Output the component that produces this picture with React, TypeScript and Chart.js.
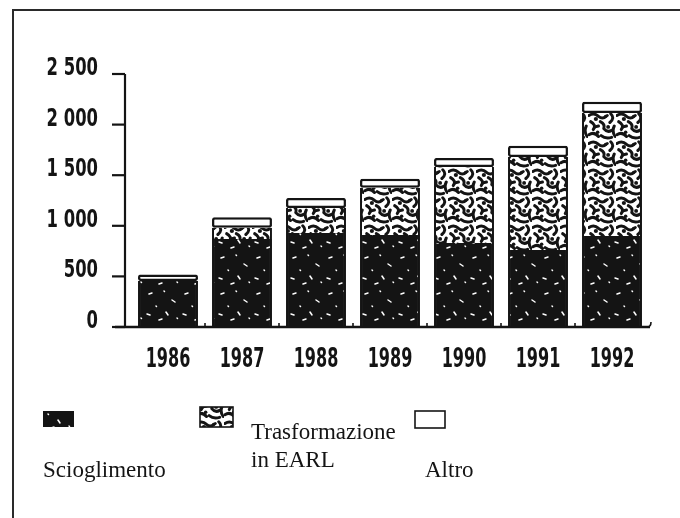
import React, { useEffect, useRef } from "react";
import { Chart, registerables } from "chart.js";

Chart.register(...registerables);

const years = ["1986", "1987", "1988", "1989", "1990", "1991", "1992"];
const scioglimento = [455, 870, 930, 910, 830, 760, 900];
const trasformazioneEARL = [0, 110, 245, 465, 750, 920, 1215];
const altro = [65, 105, 100, 90, 90, 110, 110];
const seriesNames = ["Scioglimento", "Trasformazione in EARL", "Altro"];
const yTicks = [0, 500, 1000, 1500, 2000, 2500];

const INK = "#141414";
const COND = '"DejaVu Sans Condensed", "DejaVu Sans", sans-serif';
const SERIF = '"Liberation Serif", "DejaVu Serif", serif';

function makeDarkPattern(): CanvasPattern | string {
  const c = document.createElement("canvas");
  c.width = 36;
  c.height = 36;
  const g = c.getContext("2d");
  if (!g) return INK;
  g.fillStyle = INK;
  g.fillRect(0, 0, 36, 36);
  g.strokeStyle = "#ffffff";
  g.lineWidth = 1.5;
  g.lineCap = "round";
  const marks = [
    [5, 6, 8, 5], [20, 3, 20.5, 3.5], [28, 12, 31, 14], [12, 18, 12.5, 18.5],
    [3, 26, 6, 27], [22, 24, 24, 27], [33, 30, 33.5, 30.5], [15, 32, 18, 31],
  ];
  for (const [a, b, cc, d] of marks) {
    g.beginPath();
    g.moveTo(a, b);
    g.lineTo(cc, d);
    g.stroke();
  }
  const p = g.createPattern(c, "repeat");
  return p || INK;
}

function makeMottledPattern(): CanvasPattern | string {
  const c = document.createElement("canvas");
  c.width = 28;
  c.height = 28;
  const g = c.getContext("2d");
  if (!g) return "#777";
  g.fillStyle = "#ffffff";
  g.fillRect(0, 0, 28, 28);
  g.save();
  g.scale(28 / 32, 28 / 32);
  g.strokeStyle = INK;
  g.fillStyle = INK;
  g.lineWidth = 3.4;
  g.lineCap = "round";
  g.lineJoin = "round";
  const paths: number[][] = [
    [1, 4, 7, 0, 12, 5, 17, 9, 22, 4],
    [26, 2, 31, 7, 25, 12, 25, 12, 25, 12],
    [3, 11, 10, 15, 6, 20, 6, 20, 6, 20],
    [14, 11, 20, 14, 18, 19, 22, 24, 27, 21],
    [30, 16, 27, 22, 31, 28, 31, 28, 31, 28],
    [1, 26, 7, 22, 12, 28, 12, 28, 12, 28],
    [15, 27, 20, 31, 27, 29, 27, 29, 27, 29],
    [8, 17, 12, 16, 12, 16, 12, 16, 12, 16],
  ];
  for (const p of paths) {
    g.beginPath();
    g.moveTo(p[0], p[1]);
    g.quadraticCurveTo(p[2], p[3], p[4], p[5]);
    g.quadraticCurveTo(p[6], p[7], p[8], p[9]);
    g.stroke();
  }
  const blobs = [[9, 8, 2.4], [23, 17, 2.2], [20, 5, 1.8], [11, 23, 2]];
  for (const [bx, by, br] of blobs) {
    g.beginPath();
    g.arc(bx, by, br, 0, Math.PI * 2);
    g.fill();
  }
  g.restore();
  const pat = g.createPattern(c, "repeat");
  return pat || "#777";
}

function fmt(v: number): string {
  if (v >= 1000) {
    return `${Math.floor(v / 1000)} ${String(v % 1000).padStart(3, "0")}`;
  }
  return String(v);
}

function drawNarrow(ctx: CanvasRenderingContext2D, text: string, x: number, y: number, size: number, sx: number, align: "right" | "center") {
  ctx.save();
  ctx.font = `bold ${size}px ${COND}`;
  ctx.textBaseline = "alphabetic";
  ctx.textAlign = align;
  ctx.translate(x, y);
  ctx.scale(sx, 1);
  ctx.fillText(text, 0, 0);
  ctx.restore();
}

export default function App() {
  const ref = useRef<HTMLCanvasElement | null>(null);

  useEffect(() => {
    const canvas = ref.current;
    if (!canvas) return;
    const dark = makeDarkPattern();
    const mottled = makeMottledPattern();

    const decor = {
      id: "decor",
      beforeDraw(chart: any) {
        const ctx = chart.ctx;
        ctx.save();
        ctx.fillStyle = "#ffffff";
        ctx.fillRect(0, 0, chart.width, chart.height);
        ctx.strokeStyle = "#2a2a2a";
        ctx.lineWidth = 2;
        ctx.beginPath();
        ctx.moveTo(13, chart.height);
        ctx.lineTo(13, 10);
        ctx.lineTo(chart.width, 10);
        ctx.stroke();
        ctx.restore();
      },
      afterDraw(chart: any) {
        const ctx = chart.ctx;
        const area = chart.chartArea;
        const ys = chart.scales.y;
        const xs = chart.scales.x;
        ctx.save();
        ctx.strokeStyle = INK;
        ctx.fillStyle = INK;
        ctx.lineCap = "butt";
        // y axis
        const axisX = area.left - 6;
        ctx.lineWidth = 2.2;
        ctx.beginPath();
        ctx.moveTo(axisX, ys.getPixelForValue(2500));
        ctx.lineTo(axisX, area.bottom);
        ctx.stroke();
        for (const t of yTicks) {
          const py = ys.getPixelForValue(t);
          ctx.beginPath();
          ctx.moveTo(axisX - 13, py);
          ctx.lineTo(axisX, py);
          ctx.stroke();
          drawNarrow(ctx, fmt(t), 98, py + 1, 24, 0.76, "right");
        }
        // x axis
        ctx.lineWidth = 2.6;
        ctx.beginPath();
        ctx.moveTo(area.left - 16, area.bottom);
        ctx.lineTo(area.right + 1, area.bottom);
        ctx.stroke();
        ctx.lineWidth = 1.6;
        const n = years.length;
        const step = (area.right - area.left) / n;
        for (let i = 1; i < n; i++) {
          const px = xs.getPixelForValue(i) - step / 2;
          ctx.beginPath();
          ctx.moveTo(px, area.bottom);
          ctx.lineTo(px, area.bottom - 4);
          ctx.stroke();
        }
        ctx.beginPath();
        ctx.moveTo(area.right - 2, area.bottom);
        ctx.quadraticCurveTo(area.right + 2, area.bottom, area.right + 2, area.bottom - 5);
        ctx.stroke();
        years.forEach((yr, i) => {
          drawNarrow(ctx, yr, xs.getPixelForValue(i), area.bottom + 40, 27, 0.66, "center");
        });

        // legend
        const fills = [dark, mottled, "#ffffff"];
        const boxes = [
          { x: 43, y: 411, w: 31, h: 16 },
          { x: 200, y: 407, w: 33, h: 20 },
          { x: 415, y: 411, w: 30, h: 17 },
        ];
        boxes.forEach((b, i) => {
          ctx.fillStyle = fills[i];
          ctx.fillRect(b.x, b.y, b.w, b.h);
          if (i > 0) {
            ctx.lineWidth = 1.6;
            ctx.strokeStyle = INK;
            ctx.strokeRect(b.x, b.y, b.w, b.h);
          }
        });
        ctx.fillStyle = INK;
        ctx.font = `23px ${SERIF}`;
        ctx.textBaseline = "alphabetic";
        ctx.textAlign = "left";
        ctx.fillText(seriesNames[0], 43, 477);
        const parts = seriesNames[1].split(" in ");
        ctx.fillText(parts[0], 251, 439);
        ctx.fillText("in " + parts[1], 251, 467);
        ctx.fillText(seriesNames[2], 425, 477);
        ctx.restore();
      },
    };

    const chart = new Chart(canvas, {
      type: "bar",
      data: {
        labels: years,
        datasets: [
          {
            label: seriesNames[0],
            data: scioglimento,
            backgroundColor: dark as any,
            borderColor: INK,
            borderWidth: { top: 0, left: 2, right: 2, bottom: 0 } as any,
            borderSkipped: false,
          },
          {
            label: seriesNames[1],
            data: trasformazioneEARL,
            backgroundColor: mottled as any,
            borderColor: INK,
            borderWidth: { top: 0, left: 2, right: 2, bottom: 0 } as any,
            borderSkipped: false,
          },
          {
            label: seriesNames[2],
            data: altro,
            backgroundColor: "#ffffff",
            borderColor: INK,
            borderWidth: 2.5,
            borderSkipped: false,
            borderRadius: 2,
          },
        ],
      },
      options: {
        animation: false,
        responsive: false,
        events: [],
        datasets: { bar: { barPercentage: 0.81, categoryPercentage: 1 } } as any,
        layout: { padding: { top: 74, right: 31, left: 0, bottom: 0 } },
        plugins: { legend: { display: false }, tooltip: { enabled: false } },
        scales: {
          x: {
            stacked: true,
            grid: { display: false, drawTicks: false },
            border: { display: false },
            ticks: { display: false },
            afterFit: (s: any) => {
              s.height = 191;
            },
          },
          y: {
            stacked: true,
            min: 0,
            max: 2500,
            grid: { display: false, drawTicks: false },
            border: { display: false },
            ticks: { display: false, stepSize: 500 },
            afterFit: (s: any) => {
              s.width = 131;
            },
          },
        },
      },
      plugins: [decor],
    });
    return () => chart.destroy();
  }, []);

  return (
    <div style={{ position: "fixed", left: 0, top: 0, width: 680, height: 518, background: "#fff" }}>
      <canvas ref={ref} width={680} height={518} style={{ display: "block", width: 680, height: 518 }} />
    </div>
  );
}
